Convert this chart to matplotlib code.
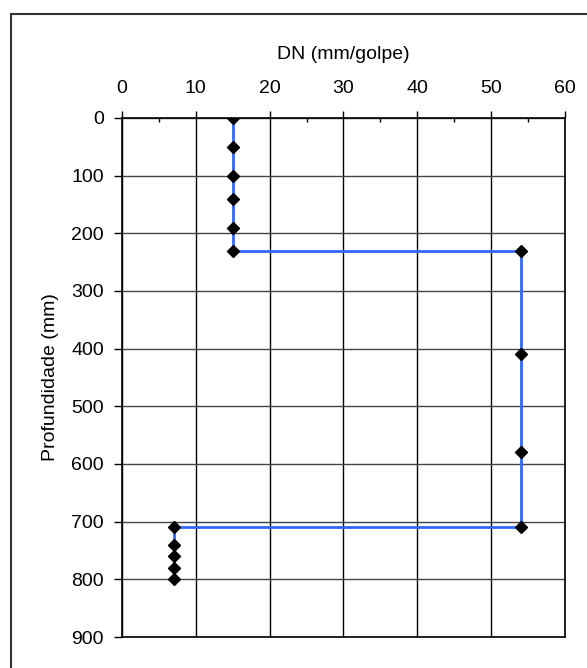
import matplotlib
matplotlib.use('Agg')
import matplotlib.pyplot as plt
from matplotlib.patches import Rectangle
from matplotlib.ticker import MultipleLocator

plt.rcParams['font.family'] = ['Liberation Sans', 'DejaVu Sans']

# DN (mm/golpe) vs profundidade (mm)
dn = [15, 15, 15, 15, 15, 15, 54, 54, 54, 54, 7, 7, 7, 7, 7]
depth = [0, 50, 100, 140, 190, 230, 230, 410, 580, 710, 710, 740, 760, 780, 800]

x_ticks = [0, 10, 20, 30, 40, 50, 60]
y_ticks = [0, 100, 200, 300, 400, 500, 600, 700, 800, 900]

fig = plt.figure(figsize=(5.87, 6.68), dpi=100)
ax = fig.add_axes([0.2078, 0.0464, 0.7547, 0.777])

ax.plot(dn, depth, color='#3366ff', lw=2, zorder=3)
ax.plot(dn, depth, ls='none', marker='D', ms=6, color='black', zorder=4)

ax.set_xlim(0, 60)
ax.set_ylim(900, 0)
ax.set_xticks(x_ticks)
ax.set_yticks(y_ticks)
ax.xaxis.set_minor_locator(MultipleLocator(5))
ax.xaxis.tick_top()
ax.xaxis.set_label_position('top')
ax.tick_params(axis='x', which='major', direction='out', length=5, width=1,
               labelsize=14, pad=10)
ax.tick_params(axis='x', which='minor', direction='in', length=3, width=1)
ax.tick_params(axis='y', which='major', direction='out', length=6, width=1,
               labelsize=14, pad=7)
for s in ax.spines.values():
    s.set_linewidth(1.2)
ax.grid(True, axis='x', color='black', lw=1)
ax.grid(True, axis='y', color='#444444', lw=1)
ax.set_axisbelow(True)

ax.set_xlabel('DN (mm/golpe)', fontsize=14, labelpad=15)
ax.set_ylabel('Profundidade (mm)', fontsize=14, labelpad=9)

# outer frame like the spreadsheet chart area
fig.patches.append(Rectangle((11 / 587, -0.1), 1.0, 1.1 - 14 / 668,
                             transform=fig.transFigure, fill=False,
                             edgecolor='#333333', lw=1.5))

plt.savefig('out.png', dpi=100)
